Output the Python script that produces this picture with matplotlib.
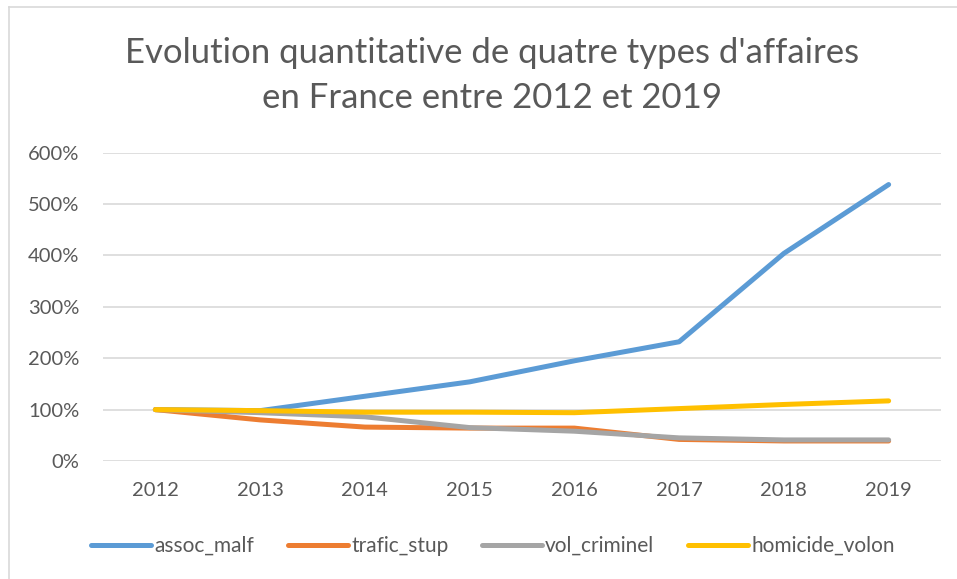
import matplotlib
matplotlib.use("Agg")
import matplotlib.pyplot as plt
from matplotlib.lines import Line2D
from matplotlib.ticker import FuncFormatter

years = ["2012", "2013", "2014", "2015", "2016", "2017", "2018", "2019"]
assoc_malf = [1.00, 0.98, 1.26, 1.54, 1.95, 2.32, 4.04, 5.38]
trafic_stup = [1.00, 0.80, 0.66, 0.64, 0.64, 0.42, 0.39, 0.39]
vol_criminel = [1.00, 0.94, 0.86, 0.65, 0.58, 0.45, 0.41, 0.41]
homicide_volon = [1.00, 0.98, 0.95, 0.95, 0.94, 1.02, 1.10, 1.17]

series = [
    ("assoc_malf", assoc_malf, "#5B9BD5"),
    ("trafic_stup", trafic_stup, "#ED7D31"),
    ("vol_criminel", vol_criminel, "#A5A5A5"),
    ("homicide_volon", homicide_volon, "#FFC000"),
]

TXT = "#595959"
plt.rcParams["font.family"] = ["Lato", "DejaVu Sans"]

fig = plt.figure(figsize=(9.57, 5.79), dpi=100)
ax = fig.add_axes([0.1076, 0.2038, 0.8757, 0.5325])

x = list(range(len(years)))
for name, vals, col in series:
    ax.plot(x, vals, color=col, lw=3.6, solid_capstyle="round",
            solid_joinstyle="round", label=name)

ax.set_xlim(-0.5, len(years) - 0.5)
ax.set_ylim(0, 6)
ax.set_yticks(range(0, 7))
ax.yaxis.set_major_formatter(FuncFormatter(lambda v, _: f"{v * 100:.0f}%"))
ax.set_xticks(x)
ax.set_xticklabels(years)
ax.grid(axis="y", color="#D9D9D9", lw=1.2)
ax.set_axisbelow(True)
for s in ax.spines.values():
    s.set_visible(False)
ax.tick_params(length=0, labelsize=14.5, colors=TXT)
ax.tick_params(axis="y", pad=17)
ax.tick_params(axis="x", pad=15)

fig.text(0.514, 0.869, "Evolution quantitative de quatre types d'affaires\nen France entre 2012 et 2019",
         ha="center", va="center", fontsize=25, color=TXT, linespacing=1.5)

handles = [Line2D([], [], color=c, lw=3.6, solid_capstyle="round") for _, _, c in series]
fig.legend(handles, [n for n, _, _ in series], loc="center", bbox_to_anchor=(0.515, 0.057),
           ncol=4, frameon=False, fontsize=15, handlelength=2.9, handletextpad=0.15,
           columnspacing=1.6, labelcolor=TXT)

# chart border (top and left edges visible)
fig.add_artist(Line2D([9 / 957, 1], [1 - 7 / 579, 1 - 7 / 579], color="#D9D9D9", lw=1.2))
fig.add_artist(Line2D([9 / 957, 9 / 957], [0, 1 - 7 / 579], color="#D9D9D9", lw=1.2))

fig.savefig("out.png", dpi=100)
